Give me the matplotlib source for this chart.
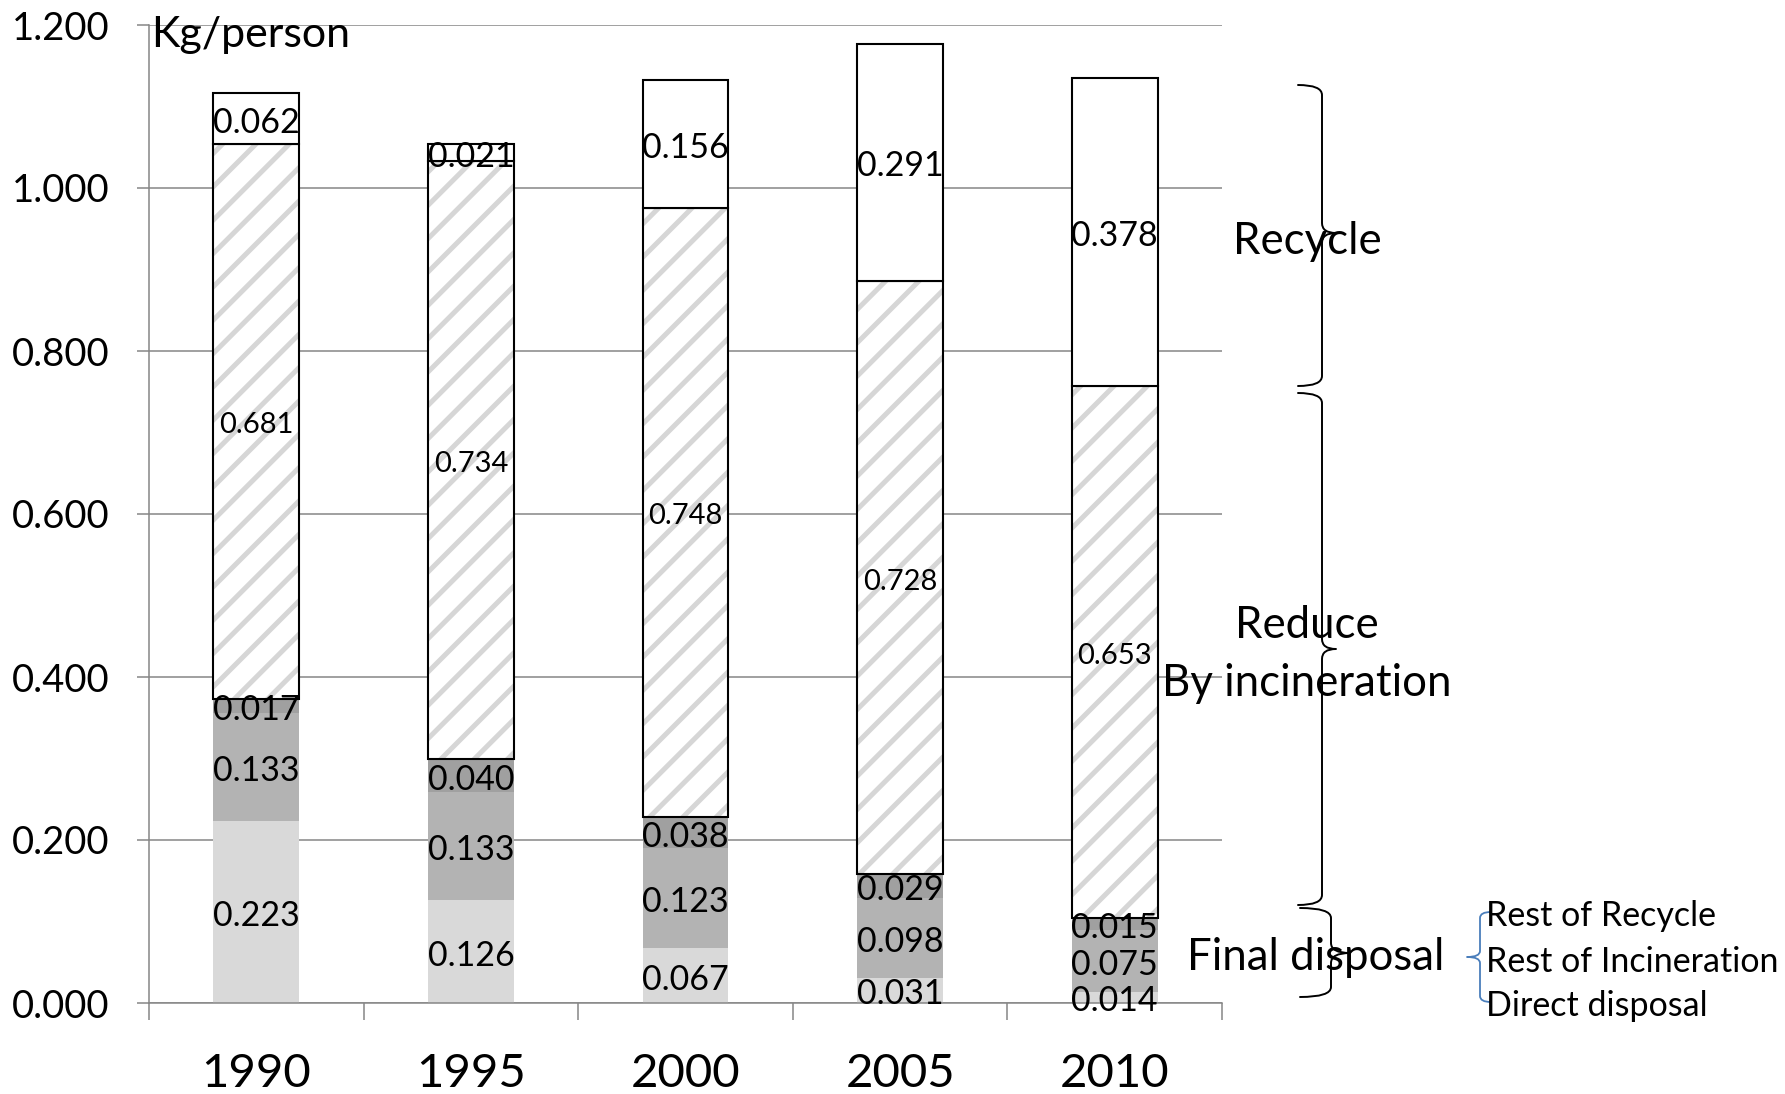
import matplotlib
matplotlib.use("Agg")
import matplotlib.pyplot as plt
from matplotlib.path import Path
from matplotlib.patches import PathPatch
from matplotlib.transforms import offset_copy
import numpy as np

plt.rcParams['font.family'] = ['Lato', 'DejaVu Sans']
plt.rcParams['hatch.linewidth'] = 3.6

years = ["1990", "1995", "2000", "2005", "2010"]
direct_disposal = [0.223, 0.126, 0.067, 0.031, 0.014]
rest_incineration = [0.133, 0.133, 0.123, 0.098, 0.075]
rest_recycle = [0.017, 0.040, 0.038, 0.029, 0.015]
incineration = [0.681, 0.734, 0.748, 0.728, 0.653]
recycle = [0.062, 0.021, 0.156, 0.291, 0.378]
yticks = [0.0, 0.2, 0.4, 0.6, 0.8, 1.0, 1.2]

W, H = 1785, 1094
fig = plt.figure(figsize=(W / 100, H / 100), dpi=100)
ax = fig.add_axes([149 / W, 1 - 1003 / H, (1222 - 149) / W, (1003 - 25) / H])

x = np.arange(len(years))
bw = 0.4
grid_c = '#868686'
label_tr = offset_copy(ax.transData, fig=fig, x=0, y=-4, units='dots')

series = [
    (direct_disposal, dict(color='#d9d9d9'), 24.5),
    (rest_incineration, dict(color='#b3b3b3'), 24.5),
    (rest_recycle, dict(color='#a0a0a0'), 24.5),
    (incineration, 'hatch', 21),
    (recycle, 'white', 24.5),
]

bottom = np.zeros(len(years))
for vals, style, fs in series:
    vals = np.array(vals)
    if style == 'hatch':
        ax.bar(x, vals, bw, bottom=bottom, color='white', edgecolor='#d6d6d6',
               hatch='/', linewidth=0, zorder=2)
        ax.bar(x, vals, bw, bottom=bottom, fill=False, edgecolor='black',
               linewidth=1.5, zorder=3)
    elif style == 'white':
        ax.bar(x, vals, bw, bottom=bottom, color='white', edgecolor='black',
               linewidth=1.5, zorder=3)
    else:
        ax.bar(x, vals, bw, bottom=bottom, linewidth=0, zorder=2, **style)
    for xi, b, v in zip(x, bottom, vals):
        ax.text(xi, b + v / 2, f"{v:.3f}", ha='center', va='center',
                fontsize=fs, color='black', zorder=5, transform=label_tr)
    bottom = bottom + vals

ax.set_xlim(-0.5, len(years) - 0.5)
ax.set_ylim(0, 1.2)
ax.set_yticks(yticks)
ax.set_yticklabels([f"{t:.3f}" for t in yticks])
ax.set_xticks(x)
ax.set_xticklabels(years)
ax.set_xticks(np.arange(-0.5, len(years), 1.0), minor=True)
ax.tick_params(axis='x', which='major', length=0, pad=36, labelsize=34)
ax.tick_params(axis='x', which='minor', length=12.2, width=1.1, color=grid_c,
               direction='out')
ax.tick_params(axis='y', which='major', length=8.6, width=1.1, color=grid_c,
               pad=20, labelsize=27.5)
ax.yaxis.grid(True, color=grid_c, linewidth=1.1, zorder=0)
ax.set_axisbelow(True)
for s in ['top', 'right']:
    ax.spines[s].set_visible(False)
for s in ['left', 'bottom']:
    ax.spines[s].set_color(grid_c)
    ax.spines[s].set_linewidth(1.1)

# overlay for annotations (pixel coordinates)
ov = fig.add_axes([0, 0, 1, 1], zorder=10)
ov.set_xlim(0, W)
ov.set_ylim(H, 0)
ov.axis('off')
ov.patch.set_alpha(0)


def brace(x0, xs, xt, ytop, ybot, ymid, r, color='black', lw=1.4):
    verts = [
        (x0, ytop),
        (xs, ytop), (xs, ytop + r),
        (xs, ymid - r),
        (xs, ymid), (xt, ymid),
        (xs, ymid), (xs, ymid + r),
        (xs, ybot - r),
        (xs, ybot), (x0, ybot),
    ]
    codes = [Path.MOVETO,
             Path.CURVE3, Path.CURVE3,
             Path.LINETO,
             Path.CURVE3, Path.CURVE3,
             Path.CURVE3, Path.CURVE3,
             Path.LINETO,
             Path.CURVE3, Path.CURVE3]
    ov.add_patch(PathPatch(Path(verts, codes), fill=False, edgecolor=color,
                           linewidth=lw, capstyle='round', joinstyle='round'))


brace(1298, 1322, 1336, 85, 386, 233, 10)
brace(1298, 1322, 1336, 393, 905, 649, 10)
brace(1300, 1331, 1350, 908, 997, 953, 10)
brace(1491, 1480, 1467, 912, 1002, 957, 6, color='#4a7ebb', lw=1.3)

ov.text(151, 47, "Kg/person", fontsize=31, va='baseline', ha='left')
ov.text(1307, 242, "Recycle", fontsize=31.5, ha='center', va='center')
ov.text(1307, 626, "Reduce", fontsize=31.5, ha='center', va='center')
ov.text(1307, 684, "By incineration", fontsize=31.5, ha='center', va='center')
ov.text(1316, 957, "Final disposal", fontsize=31.5, ha='center', va='center')
for txt, yy in [("Rest of Recycle", 916), ("Rest of Incineration", 962),
                ("Direct disposal", 1006)]:
    ov.text(1486, yy, txt, fontsize=24.5, ha='left', va='center')

fig.savefig("out.png", dpi=100)
